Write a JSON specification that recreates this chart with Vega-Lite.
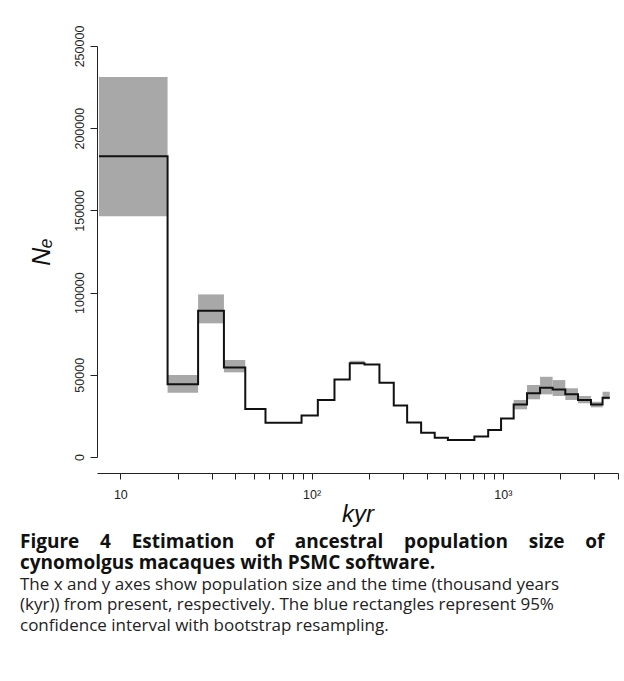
{
  "$schema": "https://vega.github.io/schema/vega-lite/v6.json",
  "autosize": {"type": "none"},
  "width": 521,
  "height": 411,
  "padding": {"left": 97, "top": 46, "right": 6, "bottom": 224},
  "background": "white",
  "config": {"view": {"stroke": null}, "font": "Liberation Sans"},
  "title": {
    "text": ["Figure \u2002\u2009\u20094 \u2002\u2009\u2009Estimation \u2002\u2009\u2009of \u2002\u2009\u2009ancestral \u2002\u2009\u2009population \u2002\u2009\u2009size \u2002\u2009\u2009of", "cynomolgus macaques with PSMC software."],
    "subtitle": ["The x and y axes show population size and the time (thousand years", "(kyr)) from present, respectively. The blue rectangles represent 95%", "confidence interval with bootstrap resampling."],
    "orient": "bottom",
    "anchor": "start",
    "frame": "group",
    "dx": -77,
    "offset": 6,
    "font": "Open Sans",
    "fontSize": 19,
    "fontWeight": "bold",
    "lineHeight": 21,
    "color": "#111111",
    "subtitleFont": "Open Sans",
    "subtitleFontSize": 17,
    "subtitleLineHeight": 20.5,
    "subtitlePadding": 4,
    "subtitleColor": "#222222"
  },
  "datasets": {
    "line": [
      {"t": 7.73, "ne": 183000}, {"t": 17.66, "ne": 44200}, {"t": 25.5, "ne": 89000}, {"t": 34.8, "ne": 54500},
      {"t": 45.0, "ne": 29200}, {"t": 57.4, "ne": 20800}, {"t": 88.6, "ne": 25300}, {"t": 107.8, "ne": 34700},
      {"t": 131.7, "ne": 47200}, {"t": 158.3, "ne": 57000}, {"t": 189, "ne": 56300}, {"t": 226.3, "ne": 45200},
      {"t": 268.9, "ne": 31400}, {"t": 315.9, "ne": 21000}, {"t": 373.8, "ne": 14800}, {"t": 440.3, "ne": 11700},
      {"t": 516, "ne": 10400}, {"t": 709.9, "ne": 12500}, {"t": 838.1, "ne": 16400}, {"t": 978.6, "ne": 23400},
      {"t": 1139, "ne": 32000}, {"t": 1338, "ne": 38800}, {"t": 1565, "ne": 42100}, {"t": 1821, "ne": 41100},
      {"t": 2121, "ne": 38100}, {"t": 2472, "ne": 34700}, {"t": 2889, "ne": 32000}, {"t": 3322, "ne": 36100},
      {"t": 3622, "ne": 36100}
    ],
    "ci": [
      {"t0": 7.73, "t1": 17.66, "lo": 146500, "hi": 231200},
      {"t0": 17.66, "t1": 25.5, "lo": 39100, "hi": 49900},
      {"t0": 25.5, "t1": 34.8, "lo": 81300, "hi": 98900},
      {"t0": 34.8, "t1": 45.0, "lo": 51500, "hi": 59000},
      {"t0": 158.3, "t1": 189, "lo": 56500, "hi": 58500},
      {"t0": 1139, "t1": 1338, "lo": 29000, "hi": 34700},
      {"t0": 1338, "t1": 1565, "lo": 35100, "hi": 43800},
      {"t0": 1565, "t1": 1821, "lo": 38100, "hi": 48800},
      {"t0": 1821, "t1": 2121, "lo": 37100, "hi": 46800},
      {"t0": 2121, "t1": 2472, "lo": 34700, "hi": 41800},
      {"t0": 2472, "t1": 2889, "lo": 32700, "hi": 37100},
      {"t0": 2889, "t1": 3322, "lo": 30200, "hi": 33600},
      {"t0": 3322, "t1": 3622, "lo": 35100, "hi": 39700}
    ]
  },
  "encoding": {
    "x": {
      "type": "quantitative",
      "scale": {"type": "log", "domain": [7.55, 4000], "nice": false},
      "axis": {
        "values": [10, 20, 30, 40, 50, 60, 70, 80, 90, 100, 200, 300, 400, 500, 600, 700, 800, 900, 1000, 2000, 3000, 4000],
        "labelExpr": "datum.value == 10 ? '10' : datum.value == 100 ? '10²' : datum.value == 1000 ? '10³' : ''",
        "offset": 16,
        "grid": false,
        "domainColor": "#222222",
        "tickColor": "#222222",
        "tickSize": 6,
        "labelPadding": 9,
        "labelFontSize": 12.5,
        "labelColor": "#222222",
        "labelFlush": false,
        "labelOverlap": false,
        "title": "kyr",
        "titleFont": "Liberation Sans",
        "titleFontStyle": "italic",
        "titleFontWeight": "normal",
        "titleFontSize": 24,
        "titleColor": "#111111",
        "titlePadding": 2
      }
    },
    "y": {
      "type": "quantitative",
      "scale": {"domain": [0, 250000], "nice": false},
      "axis": {
        "values": [0, 50000, 100000, 150000, 200000, 250000],
        "format": "d",
        "grid": false,
        "domainColor": "#222222",
        "tickColor": "#222222",
        "tickSize": 7,
        "labelAngle": -90,
        "labelAlign": "center",
        "labelBaseline": "bottom",
        "labelPadding": 4,
        "labelFontSize": 12.5,
        "labelColor": "#222222",
        "labelFlush": false,
        "title": "Nₑ",
        "titleFont": "Liberation Sans",
        "titleFontStyle": "italic",
        "titleFontWeight": "normal",
        "titleFontSize": 25,
        "titleColor": "#111111",
        "titlePadding": 19
      }
    }
  },
  "layer": [
    {
      "data": {"name": "ci"},
      "mark": {"type": "rect", "color": "#a8a8a8", "opacity": 1},
      "encoding": {
        "x": {"field": "t0"},
        "x2": {"field": "t1"},
        "y": {"field": "lo"},
        "y2": {"field": "hi"}
      }
    },
    {
      "data": {"name": "line"},
      "mark": {"type": "line", "interpolate": "step-after", "color": "#111111", "strokeWidth": 2},
      "encoding": {
        "x": {"field": "t"},
        "y": {"field": "ne"}
      }
    }
  ]
}
